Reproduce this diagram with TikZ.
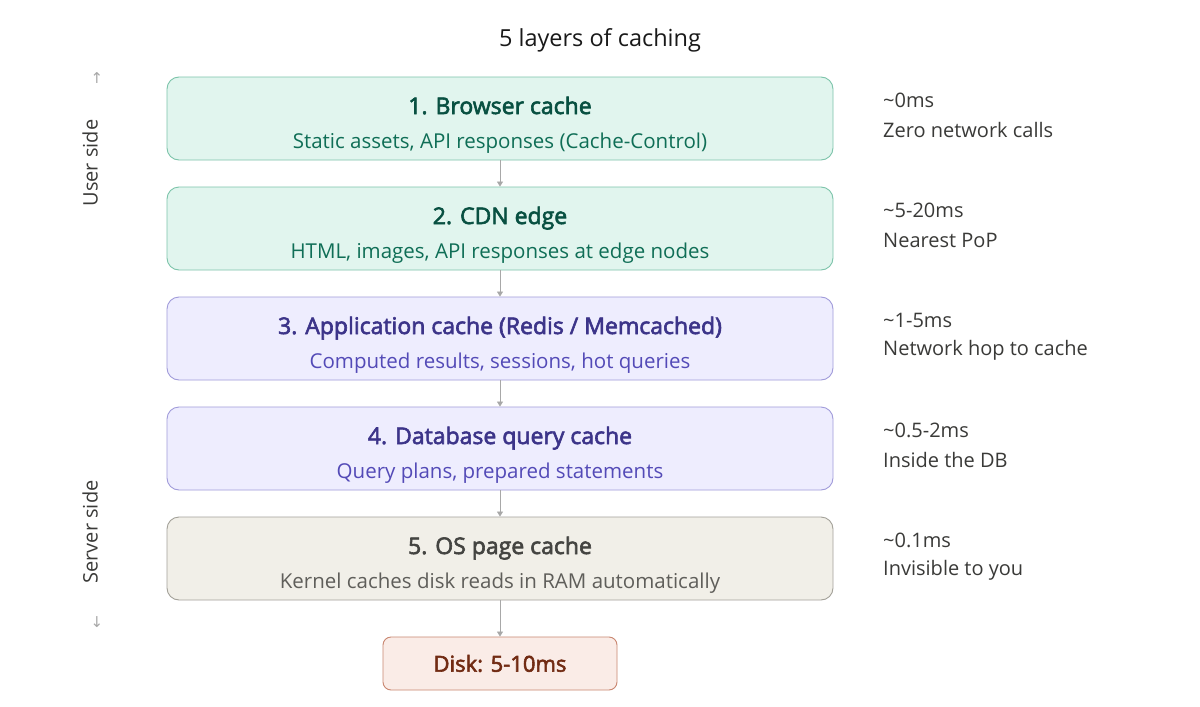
\documentclass[tikz,border=0pt]{standalone}
\usepackage{fontspec}
\setmainfont{Open Sans}
\newfontfamily\medfont[FakeBold=2.6]{Open Sans}
\newfontfamily\symfont{DejaVu Sans}
\usetikzlibrary{arrows.meta}
\definecolor{tealfill}{HTML}{E1F5EE}
\definecolor{tealline}{HTML}{7CC4AA}
\definecolor{tealdark}{HTML}{085041}
\definecolor{tealmid}{HTML}{0F6E56}
\definecolor{purpfill}{HTML}{EEEDFE}
\definecolor{purpline}{HTML}{A09BDA}
\definecolor{purpdark}{HTML}{3C3489}
\definecolor{purpmid}{HTML}{534AB7}
\definecolor{grayfill}{HTML}{F1EFE8}
\definecolor{grayline}{HTML}{A3A199}
\definecolor{graydark}{HTML}{444441}
\definecolor{graymid}{HTML}{5F5E5A}
\definecolor{coralfill}{HTML}{FAECE7}
\definecolor{coralline}{HTML}{C98670}
\definecolor{coraldark}{HTML}{712B13}
\definecolor{txtgray}{HTML}{3A3A38}
\definecolor{arrgray}{HTML}{A8A8A8}

\begin{document}
\begin{tikzpicture}[x=1pt, y=-1pt,
  layer/.style={draw, rounded corners=12pt, line width=0.9pt, minimum width=666pt,
  minimum height=83pt, align=center, inner sep=0pt, font=\fontsize{20.5}{34}\selectfont},
  green/.style={layer, fill=tealfill, draw=tealline, text=tealmid},
  purple/.style={layer, fill=purpfill, draw=purpline, text=purpmid},
  grey/.style={layer, fill=grayfill, draw=grayline, text=graymid},
  note/.style={anchor=west, inner sep=0pt, text=txtgray, font=\fontsize{20}{24}\selectfont},
  side/.style={rotate=90, inner sep=0pt, text=txtgray, font=\fontsize{20}{24}\selectfont},
  tick/.style={inner sep=0pt, text=arrgray, font=\symfont\fontsize{15}{17}\selectfont},
  arr/.style={-{Triangle[length=5pt, width=6pt]}, line width=0.8pt, arrgray}
]
\fill[white] (0,0) rectangle (1200,707);
\useasboundingbox (0,0) rectangle (1200,707);

\node[inner sep=0pt, font=\fontsize{23.5}{28}\selectfont, text=black!90] (title) at (600,40) {5 layers of caching};

% the five layers
\node[green] (browser) at (500,118.5)
  {\rule{0pt}{30pt}{\medfont\fontsize{23}{34}\selectfont\color{tealdark}1. Browser cache}\\Static assets, API responses (Cache-Control)};
\node[green] (cdn) at (500,228.5)
  {\rule{0pt}{30pt}{\medfont\fontsize{23}{34}\selectfont\color{tealdark}2. CDN edge}\\HTML, images, API responses at edge nodes};
\node[purple] (app) at (500,338.5)
  {\rule{0pt}{30pt}{\medfont\fontsize{23}{34}\selectfont\color{purpdark}3. Application cache (Redis / Memcached)}\\Computed results, sessions, hot queries};
\node[purple] (dbq) at (500,448.5)
  {\rule{0pt}{30pt}{\medfont\fontsize{23}{34}\selectfont\color{purpdark}4. Database query cache}\\Query plans, prepared statements};
\node[grey] (ospage) at (500,558.5)
  {\rule{0pt}{30pt}{\medfont\fontsize{23}{34}\selectfont\color{graydark}5. OS page cache}\\Kernel caches disk reads in RAM automatically};
\node[draw=coralline, fill=coralfill, text=coraldark, rounded corners=8pt, line width=0.9pt,
  minimum width=234pt, minimum height=53pt, font=\medfont\fontsize{22}{26}\selectfont] (disk) at (500,663.5) {Disk: 5-10ms};

% latency notes
\node[note] (lat1) at (883,100) {\textasciitilde0ms};
\node[note] (why1) at (883,130) {Zero network calls};
\node[note] (lat2) at (883,210) {\textasciitilde5-20ms};
\node[note] (why2) at (883,240) {Nearest PoP};
\node[note] (lat3) at (883,320) {\textasciitilde1-5ms};
\node[note] (why3) at (883,350) {Network hop to cache};
\node[note] (lat4) at (883,430) {\textasciitilde0.5-2ms};
\node[note] (why4) at (883,460) {Inside the DB};
\node[note] (lat5) at (883,540) {\textasciitilde0.1ms};
\node[note] (why5) at (883,570) {Invisible to you};

% sides
\node[side] (user) at (90,163) {User side};
\node[side] (server) at (90,532) {Server side};
\node[tick] (up) at (97,78) {↑};
\node[tick] (down) at (97,622) {↓};

\draw[arr] (browser) -- (cdn);
\draw[arr] (cdn) -- (app);
\draw[arr] (app) -- (dbq);
\draw[arr] (dbq) -- (ospage);
\draw[arr] (ospage) -- (disk);
\end{tikzpicture}
\end{document}
